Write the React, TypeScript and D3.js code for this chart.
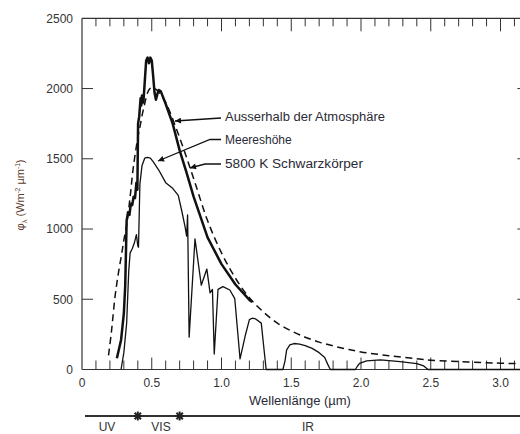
import React from "react";
import * as d3 from "d3";

// ---- data ----
const bbWavelength = [0.19, 0.21, 0.237, 0.26, 0.284, 0.3, 0.32, 0.344, 0.368, 0.4, 0.416, 0.44, 0.487, 0.52, 0.55, 0.6, 0.7, 0.8, 0.9, 1.0, 1.1, 1.2, 1.3, 1.4, 1.5, 1.6, 1.7, 1.8, 1.9, 2.0, 2.2, 2.4, 2.5, 2.7, 2.9, 3.0, 3.2];
const bbValues = [100, 260, 520, 680, 820, 920, 1030, 1220, 1440, 1650, 1730, 1850, 2000, 2000, 1975, 1900, 1650, 1360, 1060, 830, 650, 510, 410, 330, 275, 230, 195, 168, 145, 125, 98, 76, 66, 56, 48, 45, 40];

const toaWavelength = [0.25, 0.28, 0.3, 0.31, 0.32, 0.33, 0.34, 0.35, 0.36, 0.37, 0.38, 0.39, 0.397, 0.402, 0.41, 0.42, 0.425, 0.43, 0.44, 0.45, 0.46, 0.47, 0.48, 0.49, 0.5, 0.51, 0.52, 0.53, 0.54, 0.55, 0.565, 0.6, 0.65, 0.7, 0.75, 0.8, 0.9, 1.0, 1.1, 1.2, 1.22];
const toaValues = [80, 210, 400, 600, 1060, 1120, 1100, 1180, 1170, 1230, 1220, 1330, 1280, 1750, 1800, 1930, 1880, 1950, 1900, 2050, 2200, 2220, 2180, 2220, 2200, 2090, 1970, 1920, 1960, 1990, 1980, 1890, 1750, 1560, 1400, 1230, 940, 750, 605, 495, 480];

const seaWavelength = [0.28, 0.3, 0.32, 0.335, 0.345, 0.36, 0.375, 0.39, 0.4, 0.405, 0.415, 0.43, 0.45, 0.47, 0.49, 0.51, 0.55, 0.6, 0.65, 0.69, 0.715, 0.74, 0.75, 0.757, 0.768, 0.81, 0.855, 0.895, 0.918, 0.935, 0.948, 0.975, 1.01, 1.06, 1.095, 1.133, 1.17, 1.2, 1.22, 1.245, 1.285, 1.32, 1.44, 1.455, 1.467, 1.49, 1.52, 1.56, 1.6, 1.65, 1.7, 1.74, 1.76, 1.78, 1.96, 1.975, 1.99, 2.04, 2.14, 2.28, 2.4, 2.45, 2.48, 3.2];
const seaValues = [0, 120, 330, 700, 830, 860, 900, 960, 880, 870, 1320, 1450, 1505, 1510, 1505, 1480, 1420, 1330, 1290, 1240, 1130, 1010, 950, 1100, 230, 930, 600, 715, 545, 570, 110, 570, 590, 566, 505, 75, 240, 355, 365, 360, 330, 0, 0, 60, 140, 175, 185, 180, 170, 150, 120, 85, 40, 0, 0, 25, 44, 62, 68, 56, 42, 25, 0, 0];

const xTickLabels = ["0", "0.5", "1.0", "1.5", "2.0", "2.5", "3.0"];
const xTickValues = [0, 0.5, 1.0, 1.5, 2.0, 2.5, 3.0];
const yTickValues = [0, 500, 1000, 1500, 2000, 2500];
const xMinorTicks = d3.range(1, 32).map((i) => i / 10);

const annotations = ["Ausserhalb der Atmosphäre", "Meereshöhe", "5800 K Schwarzkörper"];
const bandLabels = ["UV", "VIS", "IR"];
const bandBoundaries = [0.4, 0.7];

// ---- layout ----
const W = 520;
const H = 434;
const left = 82;
const right = 528.4;
const top = 18.3;
const bottom = 369.5;
const FONT = "'Liberation Sans', Arial, Helvetica, sans-serif";
const INK = "#111";
const TXT = "#2a2a36";

export default function App() {
  const x = d3.scaleLinear().domain([0, 3.2]).range([left, right]);
  const y = d3.scaleLinear().domain([0, 2500]).range([bottom, top]);

  const lineLin = d3
    .line<[number, number]>()
    .x((d) => x(d[0]))
    .y((d) => y(d[1]));
  const lineSmooth = d3
    .line<[number, number]>()
    .x((d) => x(d[0]))
    .y((d) => y(d[1]))
    .curve(d3.curveCatmullRom.alpha(0.5));

  const bb = bbWavelength.map((w, i) => [w, bbValues[i]] as [number, number]);
  const toa = toaWavelength.map((w, i) => [w, toaValues[i]] as [number, number]);
  const sea = seaWavelength.map((w, i) => [w, seaValues[i]] as [number, number]);

  const isMajor = (t: number) => Math.abs(t * 2 - Math.round(t * 2)) < 1e-6;

  const bandY = 416;
  const star = (cx: number, key: string) => (
    <g key={key} stroke="#222" strokeWidth={2}>
      {[0, 45, 90, 135].map((a) => {
        const r = 4.5;
        const dx = r * Math.cos((a * Math.PI) / 180);
        const dy = r * Math.sin((a * Math.PI) / 180);
        return <line key={a} x1={cx - dx} y1={bandY - dy} x2={cx + dx} y2={bandY + dy} />;
      })}
    </g>
  );

  return (
    <svg
      width={W}
      height={H}
      style={{ position: "absolute", left: 0, top: 0, background: "#fff" }}
      fontFamily={FONT}
    >
      <defs>
        <marker
          id="arrow"
          viewBox="0 0 10 10"
          refX={10}
          refY={5}
          markerWidth={8}
          markerHeight={6}
          markerUnits="userSpaceOnUse"
          orient="auto"
        >
          <path d="M0,0 L10,5 L0,10 z" fill={INK} />
        </marker>
      </defs>
      <rect x={0} y={0} width={W} height={H} fill="#fff" />

      {/* frame */}
      <g stroke="#333" strokeWidth={1.2} fill="none">
        <line x1={left} y1={top} x2={right} y2={top} />
        <line x1={left} y1={top} x2={left} y2={bottom} />
        <line x1={left} y1={bottom} x2={right} y2={bottom} />
        <line x1={right} y1={top} x2={right} y2={bottom} />
      </g>

      {/* x ticks top & bottom */}
      <g stroke="#333" strokeWidth={1}>
        {xMinorTicks.map((t) => {
          const len = isMajor(t) ? 13 : 8;
          return (
            <g key={t}>
              <line x1={x(t)} y1={top} x2={x(t)} y2={top + len} />
              <line x1={x(t)} y1={bottom} x2={x(t)} y2={bottom - (isMajor(t) ? 12 : 9)} />
            </g>
          );
        })}
      </g>

      {/* y ticks left & right */}
      <g stroke="#333" strokeWidth={1}>
        {yTickValues.slice(1, -1).map((t) => (
          <g key={t}>
            <line x1={left} y1={y(t)} x2={left + 11} y2={y(t)} />
            <line x1={right} y1={y(t)} x2={right - 11} y2={y(t)} />
          </g>
        ))}
      </g>

      {/* tick labels */}
      <g fontSize={12} fill="#333">
        {yTickValues.map((t) => (
          <text key={t} x={73} y={y(t) + 4.3} textAnchor="end">
            {String(t)}
          </text>
        ))}
        {xTickValues.map((t, i) => (
          <text key={t} x={x(t)} y={387} textAnchor="middle">
            {xTickLabels[i]}
          </text>
        ))}
      </g>

      {/* axis titles */}
      <text x={300} y={405} fontSize={13} textAnchor="middle" fill={TXT}>
        Wellenlänge (µm)
      </text>
      <text
        transform={`translate(24,195) rotate(-90)`}
        fontSize={11}
        textAnchor="middle"
        fill="#5b3a29"
      >
        φ<tspan fontSize={7.5} dy={3}>λ</tspan>
        <tspan dy={-3}> (Wm</tspan>
        <tspan fontSize={6.5} dy={-4.5}>-2</tspan>
        <tspan dy={4.5}> µm</tspan>
        <tspan fontSize={6.5} dy={-4.5}>-1</tspan>
        <tspan dy={4.5}>)</tspan>
      </text>

      {/* curves */}
      <path d={lineSmooth(bb) || ""} fill="none" stroke={INK} strokeWidth={1.5} strokeDasharray="7,4.5" />
      <path d={lineLin(sea) || ""} fill="none" stroke={INK} strokeWidth={1.3} strokeLinejoin="round" />
      <path d={lineLin(toa) || ""} fill="none" stroke={INK} strokeWidth={2.5} strokeLinejoin="round" />

      {/* annotations */}
      <g stroke={INK} strokeWidth={1.3} fill="none">
        <path d="M221,118 L175,121" markerEnd="url(#arrow)" />
        <path d="M221,139.5 L210,139.5 L158,161" markerEnd="url(#arrow)" />
        <path d="M221,164 L205,164 L190,168" markerEnd="url(#arrow)" />
      </g>
      <g fontSize={12.5} fill={TXT}>
        <text x={225} y={121} textLength={160} lengthAdjust="spacingAndGlyphs">{annotations[0]}</text>
        <text x={225} y={144} fontSize={12}>{annotations[1]}</text>
        <text x={225} y={168} textLength={138} lengthAdjust="spacingAndGlyphs">{annotations[2]}</text>
      </g>

      {/* spectral band bar */}
      <line x1={85} y1={bandY} x2={W} y2={bandY} stroke="#333" strokeWidth={2} />
      {bandBoundaries.map((b, i) => star(x(b), "s" + i))}
      <g fontSize={12} fill="#333" textAnchor="middle">
        <text x={107} y={431}>{bandLabels[0]}</text>
        <text x={161} y={431}>{bandLabels[1]}</text>
        <text x={308} y={431}>{bandLabels[2]}</text>
      </g>
    </svg>
  );
}
